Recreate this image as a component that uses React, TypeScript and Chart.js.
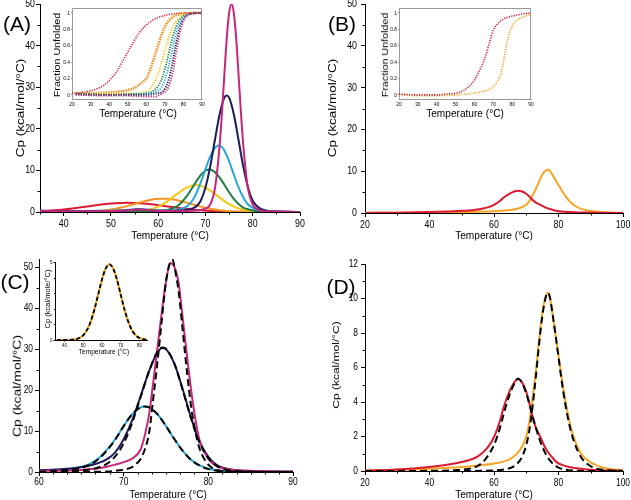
import React, { useEffect, useRef } from "react";
import { Chart, registerables, LinearScale } from "chart.js";
Chart.register(...registerables);

// Linear scale whose tick labels are drawn horizontally condensed (like the source figure)
class NarrowLinear extends (LinearScale as any) {
  static id = "narrowLinear";
  static defaults = (LinearScale as any).defaults;
  drawLabels(area: any) {
    const ctx: any = (this as any).ctx;
    const orig = ctx.fillText;
    const k = 0.8;
    ctx.fillText = function (t: string, x: number, y: number, mw?: number) {
      this.save();
      this.translate(x, y);
      this.scale(k, 1);
      if (mw === undefined) orig.call(this, t, 0, 0);
      else orig.call(this, t, 0, 0, mw / k);
      this.restore();
    };
    try {
      super.drawLabels(area);
    } finally {
      delete ctx.fillText;
    }
  }
}
Chart.register(NarrowLinear as any);

// ---------- DATA ----------
// Panel A: DSC curves (Temperature °C, Cp kcal/mol/°C)
const aMagentaT = [35, 42, 48, 52, 56, 60, 64, 67, 69, 70, 71, 72, 73, 73.5, 74, 74.5, 75, 75.5, 76, 76.5, 77, 77.5, 78, 79, 80, 81, 82, 84, 87, 90];
const aMagentaCp = [0.3, 0.15, 0.2, 0.3, 0.6, 0.3, 0.2, 0.3, 0.5, 0.8, 1.8, 5.6, 16, 24, 33, 41.7, 47.8, 50, 47.8, 41.7, 33, 24, 16, 5.6, 1.8, 0.7, 0.3, 0.1, 0.05, 0];
const aNavyT = [35, 42, 48, 52, 56, 60, 64, 66, 68, 69, 70, 71, 72, 73, 74, 74.5, 75, 76, 77, 78, 79, 80, 81, 82, 83, 85, 88, 90];
const aNavyCp = [0.3, 0.15, 0.2, 0.3, 0.6, 0.3, 0.3, 0.5, 1.3, 2.7, 5.9, 10.9, 17.3, 23.5, 27.5, 28, 27.5, 23.5, 17.3, 10.9, 5.9, 2.7, 1.3, 0.6, 0.3, 0.1, 0.05, 0];
const aCyanT = [35, 42, 48, 52, 56, 60, 62, 64, 66, 67, 68, 69, 70, 71, 72, 72.8, 73.5, 74, 75, 76, 77, 78, 79, 80, 81, 82, 84, 87, 90];
const aCyanCp = [0.3, 0.2, 0.3, 0.4, 0.7, 0.4, 0.35, 0.5, 1.3, 2.4, 4.3, 7.1, 10.3, 13.3, 15.4, 16, 15.6, 14.8, 12.2, 9.0, 5.9, 3.5, 1.8, 1.0, 0.5, 0.25, 0.1, 0.05, 0];
const aGreenT = [35, 45, 55, 58, 60, 62, 64, 65, 66, 67, 68, 69, 70, 70.8, 72, 73, 74, 75, 76, 77, 78, 79, 80, 82, 85, 90];
const aGreenCp = [0.1, 0.1, 0.15, 0.15, 0.2, 0.5, 1.38, 2.4, 3.75, 5.46, 7.26, 8.87, 9.92, 10.2, 9.59, 8.27, 6.55, 4.75, 3.16, 1.93, 1.08, 0.65, 0.35, 0.12, 0.05, 0];
const aYellowT = [35, 45, 50, 55, 58, 60, 62, 64, 66, 68, 70, 72, 74, 76, 78, 80, 83, 86, 90];
const aYellowCp = [0.1, 0.1, 0.1, 0.2, 0.53, 1.3, 2.63, 4.35, 5.88, 6.5, 5.88, 4.35, 2.63, 1.3, 0.53, 0.2, 0.05, 0.02, 0];
const aOrangeT = [35, 40, 45, 48, 50, 52, 54, 56, 58, 60, 61, 62, 64, 66, 68, 70, 72, 74, 76, 78, 80, 85, 90];
const aOrangeCp = [0.05, 0.08, 0.2, 0.29, 0.58, 1.02, 1.6, 2.25, 2.82, 3.16, 3.2, 3.16, 2.82, 2.25, 1.6, 1.02, 0.58, 0.29, 0.12, 0.05, 0.02, 0, 0];
const aRedT = [35, 38, 40, 43, 46, 49, 51, 53.5, 56, 58, 61, 64, 67, 69, 72, 75, 78, 82, 90];
const aRedCp = [0.2, 0.42, 0.62, 1.02, 1.49, 1.91, 2.1, 2.2, 2.1, 1.91, 1.49, 1.02, 0.62, 0.42, 0.2, 0.08, 0.03, 0, 0];

// Panel A inset: fraction unfolded
const iaRedT = [20, 25, 30, 35, 38, 41, 44, 47, 50, 53, 56, 59, 62, 66, 70, 75, 80, 85, 90];
const iaRedF = [0.02, 0.03, 0.05, 0.09, 0.13, 0.2, 0.28, 0.4, 0.52, 0.64, 0.75, 0.83, 0.89, 0.94, 0.97, 0.99, 1.0, 1.0, 1.0];
const iaOrangeT = [22, 30, 40, 45, 50, 54, 57, 60, 62, 64, 66, 68, 70, 72, 75, 80, 85, 90];
const iaOrangeF = [0.02, 0.02, 0.03, 0.04, 0.06, 0.09, 0.14, 0.2, 0.3, 0.44, 0.58, 0.72, 0.83, 0.9, 0.96, 0.99, 1.0, 1.0];
const iaYellowT = [22, 40, 50, 55, 60, 62, 64, 66, 68, 70, 72, 74, 76, 78, 80, 85, 90];
const iaYellowF = [0.02, 0.01, 0.02, 0.02, 0.04, 0.076, 0.138, 0.237, 0.378, 0.542, 0.697, 0.818, 0.897, 0.944, 0.97, 0.99, 1.0];
const iaGreenT = [22, 40, 50, 60, 63, 65, 67, 69, 71, 72, 73, 75, 77, 79, 82, 86, 90];
const iaGreenF = [0.01, 0.0, 0.01, 0.02, 0.04, 0.07, 0.13, 0.231, 0.401, 0.5, 0.599, 0.769, 0.881, 0.943, 0.982, 0.995, 1.0];
const iaCyanT = [22, 40, 50, 61, 64, 66, 68, 70, 72, 73.5, 75, 77, 79, 81, 84, 90];
const iaCyanF = [0.01, 0.0, 0.0, 0.02, 0.03, 0.05, 0.084, 0.179, 0.343, 0.5, 0.657, 0.821, 0.916, 0.963, 0.99, 1.0];
const iaNavyT = [22, 40, 50, 60, 66, 68, 70, 72, 74, 75, 76, 78, 80, 82, 85, 90];
const iaNavyF = [0.01, 0.0, 0.0, 0.0, 0.02, 0.029, 0.076, 0.182, 0.378, 0.5, 0.622, 0.818, 0.924, 0.971, 0.993, 1.0];
const iaMagentaT = [22, 40, 50, 60, 65, 68, 70, 72, 74, 75, 76, 77, 78, 80, 82, 85, 90];
const iaMagentaF = [0.0, -0.01, -0.01, -0.02, -0.02, 0.01, 0.034, 0.098, 0.248, 0.365, 0.5, 0.635, 0.752, 0.902, 0.966, 0.993, 1.0];

// Panel B (and D solid curves)
const bRedT = [20, 30, 40, 45, 50, 55, 58, 60, 62, 63, 65, 66.5, 67.5, 68.5, 70, 71, 72, 73, 74.3, 76, 78, 79.5, 82, 85, 88, 92, 100];
const bRedCp = [0.02, 0.08, 0.23, 0.35, 0.52, 0.85, 1.35, 1.97, 3.0, 3.7, 4.7, 5.2, 5.33, 5.2, 4.6, 3.9, 3.1, 2.5, 2.0, 1.3, 0.8, 0.5, 0.3, 0.17, 0.1, 0.05, 0.02];
const bOrangeT = [20, 30, 40, 50, 55, 60, 65, 68, 70, 71, 72, 73, 74, 75, 76, 76.6, 77.3, 78, 79, 80, 81, 82, 83, 84, 85, 87, 90, 93, 96, 100];
const bOrangeCp = [0.03, 0.07, 0.13, 0.23, 0.32, 0.43, 0.7, 1.2, 2.0, 2.9, 4.3, 5.8, 7.6, 9.2, 10.1, 10.33, 10.1, 9.3, 8.0, 6.7, 5.4, 4.2, 3.2, 2.4, 1.8, 1.0, 0.5, 0.25, 0.12, 0.05];

// Panel B inset
const ibRedT = [20, 30, 40, 45, 50, 54, 57, 60, 62, 64, 66, 68, 70, 72, 75, 78, 82, 86, 90];
const ibRedF = [0.01, 0.0, 0.0, 0.01, 0.02, 0.05, 0.1, 0.18, 0.27, 0.36, 0.48, 0.64, 0.79, 0.86, 0.92, 0.95, 0.97, 0.99, 1.0];
const ibOrangeT = [20, 30, 40, 50, 60, 64, 68, 70, 72, 74, 76, 78, 80, 82, 85, 88, 90];
const ibOrangeF = [0.0, -0.01, -0.01, 0.0, 0.02, 0.04, 0.07, 0.1, 0.16, 0.25, 0.48, 0.71, 0.84, 0.9, 0.94, 0.97, 0.98];

// Panel C
const cMagT = [60, 63, 65, 67, 68, 69, 70, 71, 72, 72.5, 73, 73.5, 74, 74.5, 75, 75.5, 76, 76.5, 77, 77.5, 78, 78.5, 79, 80, 81, 82, 84, 87, 90];
const cMagCp = [0.3, 0.3, 0.5, 0.9, 1.3, 1.8, 2.4, 3.3, 5.5, 9, 14, 22, 30.5, 39, 46.5, 51, 50, 46, 37, 28, 19.5, 12.5, 7.5, 3.2, 1.4, 0.8, 0.35, 0.2, 0.1];
const cMagFitT = [60, 65, 68, 69, 70, 71, 71.5, 72, 72.5, 73, 73.5, 74, 74.5, 75, 75.5, 75.8, 76, 76.5, 77, 77.5, 78, 78.5, 79, 80, 81, 82, 84, 90];
const cMagFitCp = [0, 0.02, 0.1, 0.3, 0.6, 1.2, 2.0, 3.2, 5.5, 9.5, 18, 27, 37, 46.5, 51.2, 51.8, 50, 44, 34, 24, 15.5, 9.5, 5.5, 1.8, 0.5, 0.15, 0.05, 0];
const cNavyT = [60, 62, 64, 65, 66, 67, 68, 69, 70, 71, 72, 73, 74, 74.6, 75, 76, 77, 78, 79, 80, 81, 82, 83, 85, 88, 90];
const cNavyCp = [0.4, 0.6, 0.9, 1.2, 1.6, 2.2, 3.1, 4.8, 8.0, 12.6, 18.5, 24.6, 29.3, 30.3, 30.0, 26.4, 20.0, 13.0, 7.3, 3.7, 1.7, 0.9, 0.5, 0.25, 0.1, 0.05];
const cNavyFitT = [60, 63, 65, 66, 67, 68, 69, 70, 71, 72, 73, 74, 74.6, 75, 76, 77, 78, 79, 80, 81, 82, 83, 85, 90];
const cNavyFitCp = [0, 0.1, 0.3, 0.6, 1.1, 2.0, 3.8, 7.0, 12.0, 18.3, 24.6, 29.4, 30.4, 30.1, 26.4, 19.8, 12.8, 7.0, 3.4, 1.5, 0.6, 0.25, 0.05, 0];
const cCyanT = [60, 62, 64, 65, 66, 67, 68, 69, 70, 71, 72, 72.5, 73, 74, 75, 76, 77, 78, 79, 80, 81, 82, 84, 90];
const cCyanCp = [0.4, 0.5, 0.8, 1.2, 2.0, 3.3, 5.4, 8.0, 11.2, 14.1, 15.8, 16, 15.8, 14.1, 11.2, 8.0, 5.1, 2.9, 1.6, 0.8, 0.4, 0.2, 0.1, 0.05];
const cCyanFitT = [60, 62, 64, 65, 66, 67, 68, 69, 70, 71, 72, 72.5, 73, 74, 75, 76, 77, 78, 79, 80, 81, 82, 84, 90];
const cCyanFitCp = [0.1, 0.25, 0.6, 1.0, 1.8, 3.1, 5.2, 7.9, 11.2, 14.1, 15.8, 16, 15.8, 14.1, 11.2, 8.0, 5.1, 2.9, 1.5, 0.7, 0.3, 0.15, 0.05, 0];

// Panel C inset
const icT = [36, 40, 44, 46, 48, 50, 52, 54, 56, 58, 60, 62, 64, 66, 68, 70, 72, 74, 76, 78, 80, 82, 84];
const icCp = [0, 0.0, 0.02, 0.05, 0.13, 0.3, 0.63, 1.18, 1.96, 2.91, 3.87, 4.58, 4.85, 4.58, 3.87, 2.91, 1.96, 1.18, 0.63, 0.3, 0.13, 0.05, 0.02];

// Panel D fits (dashed)
const dRedFitT = [20, 40, 48, 52, 55, 57, 59, 60, 61, 62, 63, 64, 65, 66, 67, 67.5, 68, 69, 70, 71, 72, 73, 74, 75, 76, 77, 78, 79, 80, 82, 85, 90, 100];
const dRedFitCp = [0, 0.01, 0.05, 0.12, 0.3, 0.6, 1.15, 1.5, 2.0, 2.6, 3.3, 3.95, 4.5, 4.95, 5.3, 5.35, 5.3, 5.0, 4.5, 3.85, 3.15, 2.5, 1.9, 1.4, 1.0, 0.7, 0.47, 0.32, 0.2, 0.08, 0.02, 0, 0];
const dOrangeFitT = [20, 50, 60, 64, 66, 68, 69, 70, 71, 72, 73, 74, 75, 76, 76.6, 77.3, 78, 79, 80, 81, 82, 83, 84, 85, 87, 89, 91, 94, 100];
const dOrangeFitCp = [0, 0, 0.03, 0.12, 0.25, 0.6, 0.95, 1.5, 2.4, 3.8, 5.5, 7.4, 9.0, 10.05, 10.33, 10.1, 9.3, 8.0, 6.6, 5.2, 4.0, 3.0, 2.2, 1.6, 0.8, 0.4, 0.18, 0.06, 0];

// Tick values
const aXTicks = [40, 50, 60, 70, 80, 90];
const aXMinor = [35, 45, 55, 65, 75, 85];
const aYTicks = [0, 10, 20, 30, 40, 50];
const aYMinor = [5, 15, 25, 35, 45];
const bXTicks = [20, 40, 60, 80, 100];
const bXMinor = [30, 50, 70, 90];
const cXTicks = [60, 70, 80, 90];
const cXMinor = [61.67, 63.33, 65, 66.67, 68.33, 71.67, 73.33, 75, 76.67, 78.33, 81.67, 83.33, 85, 86.67, 88.33];
const dYTicks = [0, 2, 4, 6, 8, 10, 12];
const dYMinor = [1, 3, 5, 7, 9, 11];
const insXTicks = [20, 30, 40, 50, 60, 70, 80, 90];
const insYTicks = [0, 0.2, 0.4, 0.6, 0.8, 1];
const icXTicks = [40, 50, 60, 70, 80];
const icXMinor = [45, 55, 65, 75];
const icYTicks = [0, 5];
const icYMinor = [1, 2, 3, 4];

// Colours
const MAGENTA = "rgb(200,38,122)";
const NAVY = "rgb(28,28,92)";
const CYAN = "rgb(38,168,214)";
const GREEN = "rgb(30,126,62)";
const YELLOW = "rgb(246,200,20)";
const ORANGE = "rgb(245,148,35)";
const ORANGE2 = "rgb(246,166,36)";
const RED = "rgb(218,26,48)";

const TICKFONT = "'Liberation Sans', Arial, sans-serif";
const TEXTFONT = "'Liberation Sans', Arial, sans-serif";

type Series = { t: number[]; v: number[]; color: string; width?: number; dash?: number[] };
type AxisSpec = { min: number; max: number; ticks: number[]; minor?: number[] };
type PanelSpec = {
  plot: { l: number; t: number; r: number; b: number };
  m: { left: number; right: number; top: number; bottom: number };
  x: AxisSpec;
  y: AxisSpec;
  series: Series[];
  font: number;
  tickLen: number;
  minorLen: number;
  padX: number;
  padY: number;
  axisColor: string;
  frame?: boolean;
};

function ChartPanel({ spec }: { spec: PanelSpec }) {
  const ref = useRef<HTMLCanvasElement | null>(null);
  const { plot, m } = spec;
  const left = plot.l - m.left;
  const top = plot.t - m.top;
  const width = plot.r + m.right - left;
  const height = plot.b + m.bottom - top;

  useEffect(() => {
    if (!ref.current) return;
    const ac = spec.axisColor;
    const extra = {
      id: "extras",
      afterDraw(chart: any) {
        const { ctx, chartArea, scales } = chart;
        ctx.save();
        ctx.strokeStyle = ac;
        ctx.lineWidth = 1;
        ctx.beginPath();
        (spec.x.minor || []).forEach((v) => {
          const px = Math.round(scales.x.getPixelForValue(v)) + 0.5;
          ctx.moveTo(px, chartArea.bottom);
          ctx.lineTo(px, chartArea.bottom + spec.minorLen);
        });
        (spec.y.minor || []).forEach((v) => {
          const py = Math.round(scales.y.getPixelForValue(v)) + 0.5;
          ctx.moveTo(chartArea.left, py);
          ctx.lineTo(chartArea.left - spec.minorLen, py);
        });
        ctx.stroke();
        if (spec.frame) {
          ctx.beginPath();
          ctx.moveTo(Math.round(chartArea.left) + 0.5, Math.round(chartArea.top) + 0.5);
          ctx.lineTo(Math.round(chartArea.right) - 0.5, Math.round(chartArea.top) + 0.5);
          ctx.lineTo(Math.round(chartArea.right) - 0.5, Math.round(chartArea.bottom) + 0.5);
          ctx.stroke();
        }
        ctx.restore();
      },
    };
    const axis = (a: AxisSpec, horiz: boolean) => ({
      type: "narrowLinear",
      min: a.min,
      max: a.max,
      border: { display: true, color: ac, width: 1 },
      grid: { display: true, drawOnChartArea: false, drawTicks: true, tickLength: spec.tickLen, color: ac, tickColor: ac },
      ticks: {
        font: { family: TICKFONT, size: spec.font },
        color: "#000",
        padding: horiz ? spec.padX : spec.padY,
        maxRotation: 0,
        autoSkip: false,
        callback: (v: any) => String(v),
      },
      afterBuildTicks: (sc: any) => {
        sc.ticks = a.ticks.map((v) => ({ value: v }));
      },
      afterFit: (sc: any) => {
        if (horiz) sc.height = m.bottom;
        else sc.width = m.left;
        sc.paddingLeft = 0;
        sc.paddingRight = 0;
        sc.paddingTop = 0;
        sc.paddingBottom = 0;
      },
    });
    const chart = new Chart(ref.current, {
      type: "line",
      data: {
        datasets: spec.series.map((s) => ({
          data: s.t.map((t, i) => ({ x: t, y: s.v[i] })),
          borderColor: s.color,
          borderWidth: s.width ?? 1.8,
          borderDash: s.dash ?? [],
          pointRadius: 0,
          fill: false,
          cubicInterpolationMode: "monotone" as const,
        })),
      },
      options: {
        animation: false,
        responsive: false,
        maintainAspectRatio: false,
        events: [],
        layout: { padding: { top: m.top, right: m.right, left: 0, bottom: 0 } },
        plugins: { legend: { display: false }, tooltip: { enabled: false }, title: { display: false } },
        scales: { x: { ...(axis(spec.x, true) as any), position: "bottom" }, y: { ...(axis(spec.y, false) as any), position: "left" } },
      } as any,
      plugins: [extra],
    });
    return () => chart.destroy();
  }, []);

  return (
    <canvas
      ref={ref}
      width={width}
      height={height}
      style={{ position: "absolute", left, top, width, height }}
    />
  );
}

function Label({ x, y, text, size, rot, sx }: { x: number; y: number; text: string; size: number; rot?: boolean; sx?: number }) {
  const tf = `translate(-50%,-50%) scaleX(${sx ?? 1})${rot ? " rotate(-90deg)" : ""}`;
  return (
    <div
      style={{
        position: "absolute",
        left: x,
        top: y,
        transform: tf,
        fontFamily: TEXTFONT,
        fontSize: size,
        lineHeight: 1,
        whiteSpace: "nowrap",
        color: "#000",
      }}
    >
      {text}
    </div>
  );
}

const S = (t: number[], v: number[], color: string, width?: number, dash?: number[]): Series => ({ t, v, color, width, dash });
const DOT = [1.2, 1.3];
const DASH = [7, 4];

const panelA: PanelSpec = {
  plot: { l: 40, t: 4, r: 300, b: 212 },
  m: { left: 40, right: 12, top: 8, bottom: 30 },
  x: { min: 35, max: 90, ticks: aXTicks, minor: aXMinor },
  y: { min: 0, max: 50, ticks: aYTicks, minor: aYMinor },
  series: [
    S(aMagentaT, aMagentaCp, MAGENTA, 2),
    S(aNavyT, aNavyCp, NAVY, 2),
    S(aCyanT, aCyanCp, CYAN, 2),
    S(aGreenT, aGreenCp, GREEN, 2),
    S(aYellowT, aYellowCp, YELLOW, 2),
    S(aOrangeT, aOrangeCp, ORANGE, 2),
    S(aRedT, aRedCp, RED, 2),
  ],
  font: 11, tickLen: 4, minorLen: 2.5, padX: 1, padY: 1, axisColor: "#000",
};

const insetA: PanelSpec = {
  plot: { l: 72, t: 8, r: 202, b: 99 },
  m: { left: 14, right: 6, top: 6, bottom: 9 },
  x: { min: 20, max: 90, ticks: insXTicks },
  y: { min: -0.05, max: 1.06, ticks: insYTicks },
  series: [
    S(iaMagentaT, iaMagentaF, MAGENTA, 1.8, DOT),
    S(iaNavyT, iaNavyF, NAVY, 1.8, DOT),
    S(iaCyanT, iaCyanF, CYAN, 1.8, DOT),
    S(iaGreenT, iaGreenF, GREEN, 1.8, DOT),
    S(iaYellowT, iaYellowF, YELLOW, 1.8, DOT),
    S(iaOrangeT, iaOrangeF, ORANGE, 2.6, [1.5, 1]),
    S(iaRedT, iaRedF, RED, 1.6, DOT),
  ],
  font: 6, tickLen: 1, minorLen: 0, padX: 0.5, padY: 1, axisColor: "#999", frame: true,
};

const panelB: PanelSpec = {
  plot: { l: 365, t: 4, r: 623, b: 213 },
  m: { left: 40, right: 8, top: 8, bottom: 30 },
  x: { min: 20, max: 100, ticks: bXTicks, minor: bXMinor },
  y: { min: 0, max: 50, ticks: aYTicks, minor: aYMinor },
  series: [S(bRedT, bRedCp, RED, 2), S(bOrangeT, bOrangeCp, ORANGE2, 2)],
  font: 11, tickLen: 4, minorLen: 2.5, padX: 1, padY: 4, axisColor: "#000",
};

const insetB: PanelSpec = {
  plot: { l: 399, t: 8, r: 531, b: 99 },
  m: { left: 14, right: 6, top: 6, bottom: 9 },
  x: { min: 20, max: 90, ticks: insXTicks },
  y: { min: -0.05, max: 1.06, ticks: insYTicks },
  series: [S(ibRedT, ibRedF, RED, 1.6, DOT), S(ibOrangeT, ibOrangeF, ORANGE2, 1.6, DOT)],
  font: 6, tickLen: 1, minorLen: 0, padX: 0.5, padY: 1, axisColor: "#999", frame: true,
};

const panelC: PanelSpec = {
  plot: { l: 39, t: 259, r: 293, b: 472 },
  m: { left: 39, right: 12, top: 8, bottom: 16 },
  x: { min: 60, max: 90, ticks: cXTicks, minor: cXMinor },
  y: { min: 0, max: 52, ticks: aYTicks, minor: aYMinor },
  series: [
    S(cMagFitT, cMagFitCp, "#000", 2, DASH),
    S(cNavyFitT, cNavyFitCp, "#000", 2, DASH),
    S(cCyanFitT, cCyanFitCp, "#000", 2, DASH),
    S(cMagT, cMagCp, MAGENTA, 2),
    S(cNavyT, cNavyCp, NAVY, 2),
    S(cCyanT, cCyanCp, CYAN, 2),
  ],
  font: 10.5, tickLen: 4, minorLen: 2.5, padX: 0, padY: 2, axisColor: "#000",
};

const insetC: PanelSpec = {
  plot: { l: 55, t: 262, r: 147, b: 340 },
  m: { left: 10, right: 6, top: 6, bottom: 8 },
  x: { min: 35, max: 84, ticks: icXTicks, minor: icXMinor },
  y: { min: 0, max: 5, ticks: icYTicks, minor: icYMinor },
  series: [S(icT, icCp, "#000", 1.8, [4, 2.5]), S(icT, icCp, ORANGE2, 2)],
  font: 5.5, tickLen: 1.5, minorLen: 1, padX: 1, padY: 1, axisColor: "#000",
};

const panelD: PanelSpec = {
  plot: { l: 365, t: 264, r: 623, b: 471 },
  m: { left: 40, right: 8, top: 8, bottom: 20 },
  x: { min: 20, max: 100, ticks: bXTicks, minor: bXMinor },
  y: { min: 0, max: 12, ticks: dYTicks, minor: dYMinor },
  series: [
    S(dRedFitT, dRedFitCp, "#000", 2, DASH),
    S(dOrangeFitT, dOrangeFitCp, "#000", 2, DASH),
    S(bRedT, bRedCp, RED, 2),
    S(bOrangeT, bOrangeCp, ORANGE2, 2),
  ],
  font: 10.5, tickLen: 4, minorLen: 2.5, padX: 2, padY: 3, axisColor: "#000",
};

const CP = "Cp (kcal/mol/°C)";
const TEMP = "Temperature (°C)";

export default function App() {
  return (
    <div style={{ position: "absolute", left: 0, top: 0, width: 631, height: 500, overflow: "hidden", background: "#fff" }}>
      <ChartPanel spec={panelA} />
      <ChartPanel spec={panelB} />
      <ChartPanel spec={panelC} />
      <ChartPanel spec={panelD} />
      <ChartPanel spec={insetA} />
      <ChartPanel spec={insetB} />
      <ChartPanel spec={insetC} />

      <Label x={17} y={23} text="(A)" size={21} />
      <Label x={342} y={23} text="(B)" size={21} />
      <Label x={15} y={281} text="(C)" size={21} />
      <Label x={341} y={286} text="(D)" size={21} />

      <Label x={20.5} y={108} text={CP} size={13.5} rot sx={0.78} />
      <Label x={170} y={235} text={TEMP} size={11} sx={0.92} />
      <Label x={333} y={108} text={CP} size={13.5} rot sx={0.78} />
      <Label x={494} y={235} text={TEMP} size={11} sx={0.92} />
      <Label x={16.5} y={386} text={CP} size={14} rot sx={0.78} />
      <Label x={168} y={494} text={TEMP} size={11} sx={0.92} />
      <Label x={336} y={365} text={CP} size={12} rot sx={0.78} />
      <Label x={494} y={494} text={TEMP} size={11} sx={0.92} />

      <Label x={56.5} y={55} text="Fraction Unfolded" size={10.7} rot sx={0.8} />
      <Label x={137.5} y={113} text={TEMP} size={11} sx={0.92} />
      <Label x={384.5} y={55} text="Fraction Unfolded" size={10.7} rot sx={0.8} />
      <Label x={465} y={113} text={TEMP} size={11} sx={0.92} />
      <Label x={47.5} y={299} text="Cp (kcal/mole/°C)" size={7.5} rot sx={0.85} />
      <Label x={104} y={352} text={TEMP} size={8} sx={0.82} />
    </div>
  );
}
